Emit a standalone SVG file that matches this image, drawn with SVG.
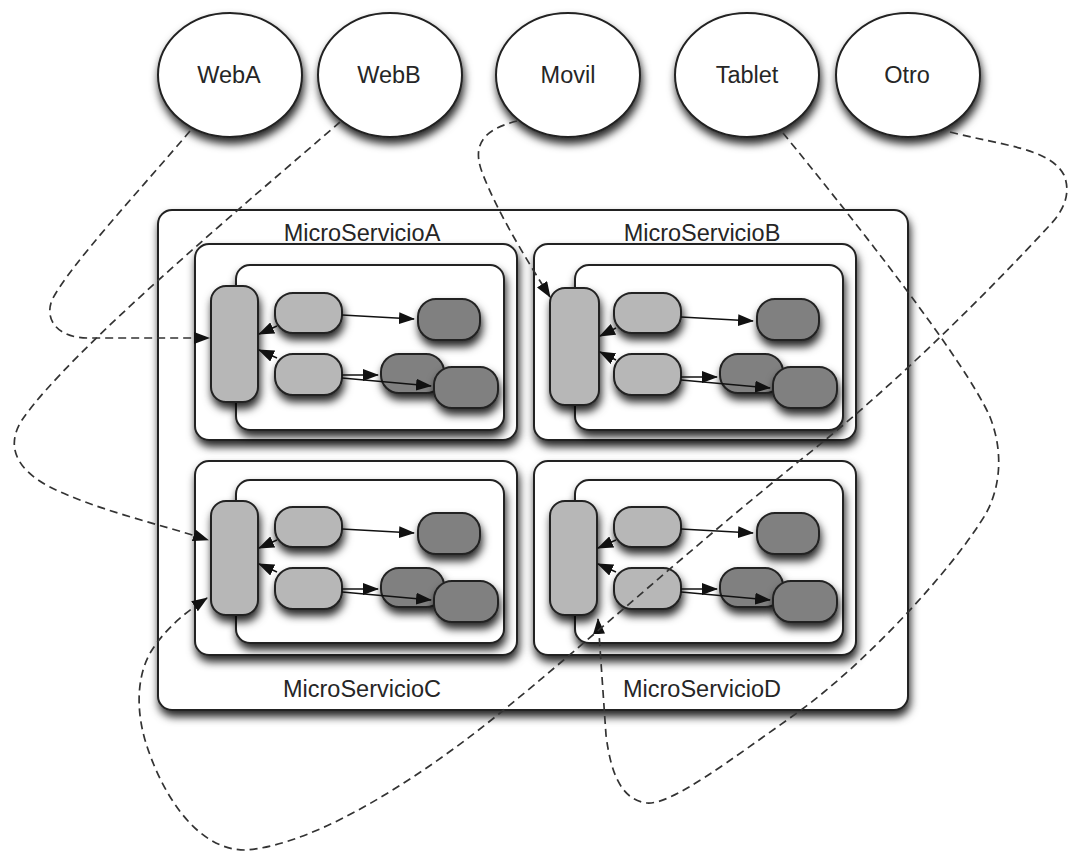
<svg xmlns="http://www.w3.org/2000/svg" xmlns:xlink="http://www.w3.org/1999/xlink" width="1072" height="852" viewBox="0 0 1072 852">
  <defs>
    <style>
      .client { fill: #ffffff; stroke: #222; stroke-width: 2; filter: url(#shadow); }
      .box { fill: #ffffff; stroke: #222; stroke-width: 2; filter: url(#shadow); }
      .gw { fill: #b7b7b7; stroke: #222; stroke-width: 2; filter: url(#shadow); }
      .light { fill: #b7b7b7; stroke: #222; stroke-width: 2; filter: url(#shadow); }
      .dark { fill: #808080; stroke: #222; stroke-width: 2; filter: url(#shadow); }
      .label { font-family: "Liberation Sans", Arial, sans-serif; font-size: 23.5px; fill: #262626; text-anchor: middle; }
      .flow { fill: none; stroke: #111; stroke-width: 1.4; marker-end: url(#arrow); }
      .link { fill: none; stroke: #333; stroke-width: 1.7; stroke-dasharray: 8 5; marker-end: url(#arrow); }
    </style>
    <filter id="shadow" x="-20%" y="-20%" width="150%" height="160%">
      <feDropShadow dx="1.5" dy="6" stdDeviation="4.5" flood-color="#000" flood-opacity="0.85"/>
    </filter>
    <marker id="arrow" viewBox="0 0 16 12" refX="15" refY="6" markerWidth="16" markerHeight="12" markerUnits="userSpaceOnUse" orient="auto">
      <path d="M0,0 L16,6 L0,12 z" fill="#111"/>
    </marker>
  </defs>

  <rect width="1072" height="852" fill="#ffffff"/>

  <!-- client applications -->
  <g id="webA"><ellipse class="client" cx="230" cy="75" rx="72" ry="62"/><text class="label" x="229" y="83">WebA</text></g>
  <g id="webB"><ellipse class="client" cx="390" cy="75" rx="72" ry="62"/><text class="label" x="389" y="83">WebB</text></g>
  <g id="movil"><ellipse class="client" cx="568" cy="75" rx="72" ry="62"/><text class="label" x="568" y="83">Movil</text></g>
  <g id="tablet"><ellipse class="client" cx="747" cy="75" rx="72" ry="62"/><text class="label" x="747" y="83">Tablet</text></g>
  <g id="otro"><ellipse class="client" cx="908" cy="75" rx="72" ry="62"/><text class="label" x="907" y="83">Otro</text></g>

  <!-- platform container -->
  <g id="platform"><rect class="box" x="158" y="210" width="750" height="500" rx="14"/></g>

  <!-- microservice A -->
  <g id="microservicioA">
    <text class="label" x="362" y="241">MicroServicioA</text>
    <rect class="box" x="195" y="244" width="322" height="196" rx="14"/>
    <rect class="box" x="236" y="265" width="268" height="165" rx="14"/>
    <g id="gatewayA"><rect class="gw" x="211" y="286" width="47" height="116" rx="15"/></g>
    <g id="a-l1"><rect class="light" x="275" y="293" width="67" height="40" rx="18"/></g>
    <g id="a-l2"><rect class="light" x="275" y="354" width="67" height="41" rx="18"/></g>
    <g id="a-d1"><rect class="dark" x="418" y="299" width="62" height="41" rx="18"/></g>
    <g id="a-d2"><rect class="dark" x="381" y="354" width="63" height="39" rx="18"/></g>
    <g id="a-d3"><rect class="dark" x="434" y="367" width="64" height="41" rx="18"/></g>
  </g>

  <!-- microservice B -->
  <g id="microservicioB">
    <text class="label" x="702" y="241">MicroServicioB</text>
    <g transform="translate(339,0)">
      <rect class="box" x="195" y="244" width="322" height="196" rx="14"/>
      <rect class="box" x="236" y="265" width="268" height="165" rx="14"/>
      <g id="gatewayB"><rect class="gw" x="211" y="288" width="49" height="117" rx="15"/></g>
      <g id="b-l1"><rect class="light" x="275" y="293" width="67" height="40" rx="18"/></g>
      <g id="b-l2"><rect class="light" x="275" y="354" width="67" height="41" rx="18"/></g>
      <g id="b-d1"><rect class="dark" x="418" y="299" width="62" height="41" rx="18"/></g>
      <g id="b-d2"><rect class="dark" x="381" y="354" width="63" height="39" rx="18"/></g>
      <g id="b-d3"><rect class="dark" x="434" y="367" width="64" height="41" rx="18"/></g>
    </g>
  </g>

  <!-- microservice C -->
  <g id="microservicioC">
    <text class="label" x="362" y="697">MicroServicioC</text>
    <g transform="translate(0,215)">
      <rect class="box" x="195" y="246" width="322" height="194" rx="14"/>
      <rect class="box" x="236" y="265" width="268" height="163" rx="14"/>
      <g id="gatewayC"><rect class="gw" x="211" y="286" width="47" height="114" rx="15"/></g>
      <g id="c-l1"><rect class="light" x="275" y="292" width="67" height="40" rx="18"/></g>
      <g id="c-l2"><rect class="light" x="275" y="353" width="67" height="41" rx="18"/></g>
      <g id="c-d1"><rect class="dark" x="418" y="298" width="62" height="41" rx="18"/></g>
      <g id="c-d2"><rect class="dark" x="381" y="353" width="63" height="39" rx="18"/></g>
      <g id="c-d3"><rect class="dark" x="434" y="366" width="64" height="41" rx="18"/></g>
    </g>
  </g>

  <!-- microservice D -->
  <g id="microservicioD">
    <text class="label" x="702" y="697">MicroServicioD</text>
    <g transform="translate(339,215)">
      <rect class="box" x="195" y="246" width="322" height="194" rx="14"/>
      <rect class="box" x="236" y="265" width="268" height="163" rx="14"/>
      <g id="gatewayD"><rect class="gw" x="211" y="286" width="47" height="114" rx="15"/></g>
      <g id="d-l1"><rect class="light" x="275" y="292" width="67" height="40" rx="18"/></g>
      <g id="d-l2"><rect class="light" x="275" y="353" width="67" height="41" rx="18"/></g>
      <g id="d-d1"><rect class="dark" x="418" y="298" width="62" height="41" rx="18"/></g>
      <g id="d-d2"><rect class="dark" x="381" y="353" width="63" height="39" rx="18"/></g>
      <g id="d-d3"><rect class="dark" x="434" y="366" width="64" height="41" rx="18"/></g>
    </g>
  </g>

  <!-- connectors -->
  <g id="connectors">
    <g id="flowsA">
      <path class="flow" d="M342,315 L414,319"/>
      <path class="flow" d="M342,375 L378,375"/>
      <path class="flow" d="M342,378 L431,386"/>
      <path class="flow" d="M277,326 L259,334"/>
      <path class="flow" d="M277,358 L259,350"/>
    </g>
    <g id="flowsB" transform="translate(339,2)">
      <path class="flow" d="M342,315 L414,319"/>
      <path class="flow" d="M342,375 L378,375"/>
      <path class="flow" d="M342,378 L431,386"/>
      <path class="flow" d="M277,326 L261,334"/>
      <path class="flow" d="M277,358 L261,350"/>
    </g>
    <g id="flowsC" transform="translate(0,214)">
      <path class="flow" d="M342,315 L414,319"/>
      <path class="flow" d="M342,375 L378,375"/>
      <path class="flow" d="M342,378 L431,386"/>
      <path class="flow" d="M277,326 L259,334"/>
      <path class="flow" d="M277,358 L259,350"/>
    </g>
    <g id="flowsD" transform="translate(339,214)">
      <path class="flow" d="M342,315 L414,319"/>
      <path class="flow" d="M342,375 L378,375"/>
      <path class="flow" d="M342,378 L431,386"/>
      <path class="flow" d="M277,326 L259,334"/>
      <path class="flow" d="M277,358 L259,350"/>
    </g>

    <path id="webA-gatewayA" class="link" d="M190,131 C 140,190 70,265 52,300 C 44,320 58,338 88,338 L 209,338"/>
    <path id="webB-gatewayC" class="link" d="M340,122 C 250,200 70,350 22,420 C 6,445 15,468 48,486 C 95,510 160,524 208,540"/>
    <path id="movil-gatewayB" class="link" d="M517,121 C 490,128 470,140 482,172 C 497,212 528,262 550,297"/>
    <path id="tablet-gatewayD" class="link" d="M783,133 C 850,215 965,360 990,417 C 1005,455 1000,495 980,523 C 950,570 870,660 797,713 C 730,760 672,805 647,803 C 622,800 611,775 606,735 L 598,619"/>
    <path id="otro-gatewayC" class="link" d="M950,132 C 1000,145 1050,148 1064,175 C 1072,195 1062,212 1050,225 C 990,290 900,380 813,450 C 700,540 590,640 500,713 C 430,770 320,845 245,850 C 195,850 160,790 145,740 C 135,705 138,672 152,650 C 166,628 186,612 207,598"/>
  </g>
</svg>
